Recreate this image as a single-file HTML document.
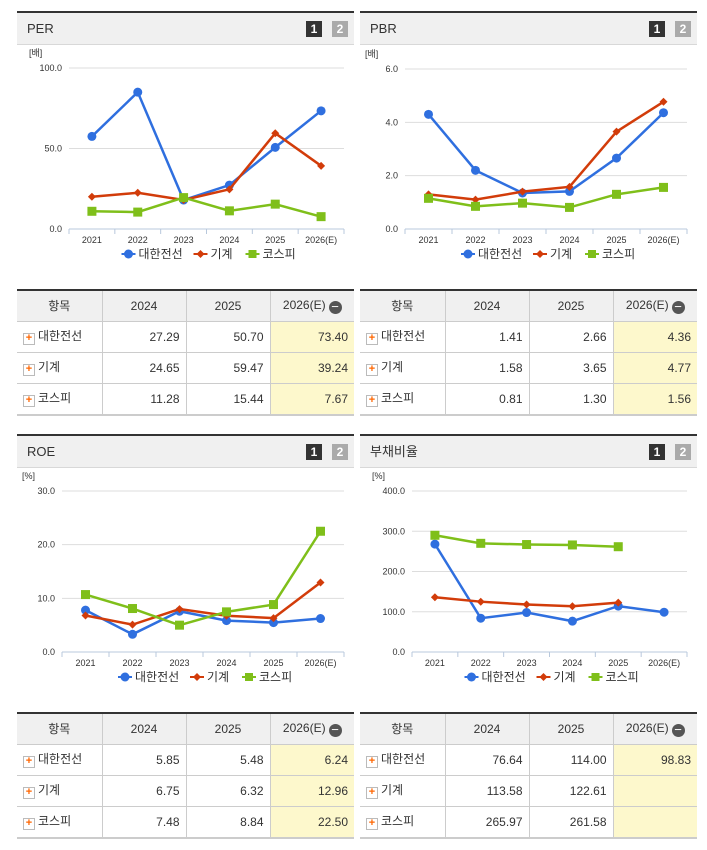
<!DOCTYPE html>
<html><head><meta charset="utf-8"><style>
body{margin:0;width:707px;height:850px;background:#fff;font-family:"Liberation Sans","Noto Sans CJK KR",sans-serif;position:relative;overflow:hidden}
.panel{position:absolute;width:337px}
.hdr{position:absolute;left:0;right:0;top:0;height:31px;background:#f0f0f0;border-top:2px solid #333;border-bottom:1px solid #d8d8d8}
.hdr .t{position:absolute;left:10px;top:8px;font-size:13px;color:#333;line-height:15px}
.b{position:absolute;top:8px;width:16px;height:16px;color:#fff;font-size:12px;font-weight:bold;text-align:center;line-height:16px}
table{position:absolute;border-collapse:collapse;width:337px;font-size:12px;color:#333;table-layout:fixed}
table{border-top:2px solid #333;border-bottom:2px solid #ccc}
th{background:#f0f0f0;font-weight:normal;height:30px;padding:0;border-left:1px solid #ccc;border-bottom:1px solid #ccc;line-height:14px}
td{height:30px;padding:0 6px 0 0;border-left:1px solid #ccc;border-bottom:1px solid #ccc;text-align:right;line-height:14px}
th:first-child,td:first-child{border-left:none}
td:first-child{text-align:left;padding-left:6px}
td.e{background:#fdf8cc}
.pl{display:inline-block;width:10px;height:10px;border:1px solid #bbb;background:#fff;color:#f60;font-size:11px;line-height:9px;text-align:center;font-weight:bold;vertical-align:-1px;margin-right:3px}
.mi{display:inline-block;width:13px;height:13px;border-radius:50%;background:#555;color:#fff;line-height:12px;font-size:13px;vertical-align:-2px;margin-left:3px}
</style></head><body>
<svg id="svg" width="707" height="850" style="position:absolute;left:0;top:0"></svg>
<div id="root"></div>
<script>
// ===== chart data =====
const years=["2021","2022","2023","2024","2025","2026(E)"];
const seriesNames=["대한전선","기계","코스피"];
const perDH=[57.5,85,18,27.29,50.70,73.40];
const perMach=[20,22.5,18,24.65,59.47,39.24];
const perKospi=[11,10.5,19.5,11.28,15.44,7.67];
const pbrDH=[4.3,2.2,1.35,1.41,2.66,4.36];
const pbrMach=[1.3,1.1,1.4,1.58,3.65,4.77];
const pbrKospi=[1.15,0.85,0.97,0.81,1.30,1.56];
const roeDH=[7.8,3.3,7.6,5.85,5.48,6.24];
const roeMach=[6.8,5.1,8.0,6.75,6.32,12.96];
const roeKospi=[10.7,8.1,5.0,7.48,8.84,22.50];
const debtDH=[268,84,98,76.64,114.00,98.83];
const debtMach=[136,125,118,113.58,122.61,null];
const debtKospi=[290,270,267,265.97,261.58,null];
const perTicks=["0.0","50.0","100.0"],pbrTicks=["0.0","2.0","4.0","6.0"],roeTicks=["0.0","10.0","20.0","30.0"],debtTicks=["0.0","100.0","200.0","300.0","400.0"];

const NS="http://www.w3.org/2000/svg",svg=document.getElementById('svg');
function el(t,a,p){const e=document.createElementNS(NS,t);for(const k in a)e.setAttribute(k,a[k]);(p||svg).appendChild(e);return e;}
const colors=["#2f6fdf","#d23c0a","#7fbf1a"];
function chart(name,x0,x1,yTop,yBot,max,ticks,unit,data){
  const g=el('g',{});
  
  
  const bw=(x1-x0)/years.length;
  const X=i=>x0+bw*(i+0.5);
  const Y=v=>yBot-(v/max)*(yBot-yTop);
  const u=el('text',{x:x0-40,y:yTop-12,'font-size':9,fill:'#333'},g);u.textContent=unit;
  
  ticks.forEach(t=>{const v=parseFloat(t),y=Y(v);
    if(v>0)el('line',{x1:x0,x2:x1,y1:y,y2:y,stroke:'#ddd'},g);
    const tx=el('text',{x:x0-7,y:y+3,'font-size':9,fill:'#333','text-anchor':'end'},g);tx.textContent=t;
    });
  el('line',{x1:x0,x2:x1,y1:yBot,y2:yBot,stroke:'#b8c8dc'},g);
  for(let i=0;i<=years.length;i++)el('line',{x1:x0+bw*i,x2:x0+bw*i,y1:yBot,y2:yBot+5,stroke:'#b8c8dc'},g);
  years.forEach((yr,i)=>{const t=el('text',{x:X(i),y:yBot+14,'font-size':9,fill:'#333','text-anchor':'middle'},g);t.textContent=yr;
    });
  data.forEach((s,si)=>{const c=colors[si];let pts=[];
    s.forEach((v,i)=>{if(v!=null)pts.push(X(i)+','+Y(v));});
    const pl=el('polyline',{points:pts.join(' '),fill:'none',stroke:c,'stroke-width':2.5},g);
    
    s.forEach((v,i)=>{if(v==null)return;const x=X(i),y=Y(v);let m;
      if(si==0)m=el('circle',{cx:x,cy:y,r:4.5,fill:c},g);
      else if(si==1)m=el('path',{d:`M${x} ${y-4}L${x+4} ${y}L${x} ${y+4}L${x-4} ${y}Z`,fill:c},g);
      else m=el('rect',{x:x-4.5,y:y-4.5,width:9,height:9,fill:c},g);
      });
  });
  const mid=(x0+x1)/2,ly=yBot+25;let lx=mid-85;
  seriesNames.forEach((n,si)=>{const c=colors[si];
    el('line',{x1:lx,x2:lx+14,y1:ly,y2:ly,stroke:c,'stroke-width':2},g);
    if(si==0)el('circle',{cx:lx+7,cy:ly,r:4.5,fill:c},g);
    else if(si==1)el('path',{d:`M${lx+7} ${ly-4}L${lx+11} ${ly}L${lx+7} ${ly+4}L${lx+3} ${ly}Z`,fill:c},g);
    else el('rect',{x:lx+3,y:ly-4,width:8,height:8,fill:c},g);
    const t=el('text',{x:lx+17,y:ly+4,'font-size':12,fill:'#333'},g);t.textContent=n;
    
    lx+=si==0?72:52;});
}
chart('per',69,344,68,229,100,perTicks,'[배]',[perDH,perMach,perKospi]);
chart('pbr',405,687,69,229,6,pbrTicks,'[배]',[pbrDH,pbrMach,pbrKospi]);
chart('roe',62,344,491,652,30,roeTicks,'[%]',[roeDH,roeMach,roeKospi]);
chart('debt',412,687,491,652,400,debtTicks,'[%]',[debtDH,debtMach,debtKospi]);

const root=document.getElementById('root');
function panel(title,left,top,tableTop,rows){
  const h=document.createElement('div');h.className='panel';h.style.left=left+'px';h.style.top=top+'px';h.style.height='32px';
  
  h.innerHTML=`<div class="hdr"><span class="t">${title}</span><span class="b" style="left:289px;background:#333">1</span><span class="b" style="left:315px;background:#aaa">2</span></div>`;
  root.appendChild(h);
  const t=document.createElement('table');t.style.left=left+'px';t.style.top=tableTop+'px';
  
  let s='<colgroup><col style="width:85px"><col style="width:84px"><col style="width:84px"><col></colgroup><tr><th>항목</th><th>2024</th><th>2025</th><th>2026(E)<span class="mi">−</span></th></tr>';
  rows.forEach(r=>{s+=`<tr><td><span class="pl">+</span>${r[0]}</td><td>${r[1]}</td><td>${r[2]}</td><td class="e">${r[3]}</td></tr>`;});
  t.innerHTML=s;root.appendChild(t);
}
panel('PER',17,11,289,[['대한전선','27.29','50.70','73.40'],['기계','24.65','59.47','39.24'],['코스피','11.28','15.44','7.67']]);
panel('PBR',360,11,289,[['대한전선','1.41','2.66','4.36'],['기계','1.58','3.65','4.77'],['코스피','0.81','1.30','1.56']]);
panel('ROE',17,434,712,[['대한전선','5.85','5.48','6.24'],['기계','6.75','6.32','12.96'],['코스피','7.48','8.84','22.50']]);
panel('부채비율',360,434,712,[['대한전선','76.64','114.00','98.83'],['기계','113.58','122.61',''],['코스피','265.97','261.58','']]);
</script>
</body></html>
